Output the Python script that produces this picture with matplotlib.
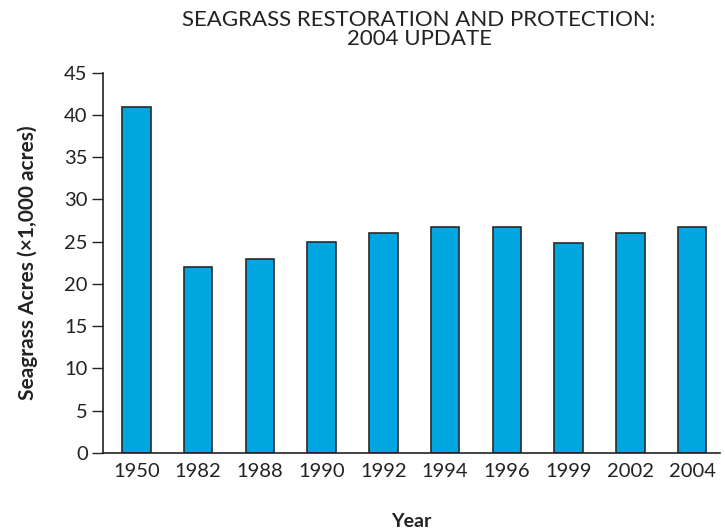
import matplotlib.pyplot as plt

years = ["1950", "1982", "1988", "1990", "1992", "1994", "1996", "1999", "2002", "2004"]
acres = [41, 22, 23, 25, 26, 26.7, 26.8, 24.9, 26, 26.7]

plt.rcParams['font.family'] = ['Lato', 'DejaVu Sans']

fig = plt.figure(figsize=(7.25, 5.31), dpi=100)
ax = fig.add_axes([0.142, 0.147, 0.851, 0.716])

x = range(len(years))
ax.bar(x, acres, width=0.46, color="#00a6e0", edgecolor="#2a2a2a", linewidth=1.2, zorder=2)

ax.set_xlim(-0.54, 9.45)
ax.set_ylim(0, 45)
ax.set_yticks(range(0, 46, 5))
ax.set_xticks(list(x))
ax.set_xticklabels(years)
ax.tick_params(axis="x", length=0, pad=7, labelsize=14.5, colors="#222222")
ax.tick_params(axis="y", length=8, width=1, pad=3, labelsize=14.5, colors="#222222")

for s in ("top", "right"):
    ax.spines[s].set_visible(False)
for s in ("left", "bottom"):
    ax.spines[s].set_linewidth(1.2)
    ax.spines[s].set_color("#222222")

ax.set_xlabel("Year", fontsize=14, fontweight="bold", labelpad=24, color="#222222")
ax.set_ylabel("Seagrass Acres (\u00d71,000 acres)", fontsize=15, fontweight="bold", labelpad=19, color="#222222")

fig.text(0.578, 0.982, "SEAGRASS RESTORATION AND PROTECTION:\n2004 UPDATE",
         ha="center", va="top", fontsize=16, linespacing=0.95, color="#222222")

fig.savefig("out.png", dpi=100)
